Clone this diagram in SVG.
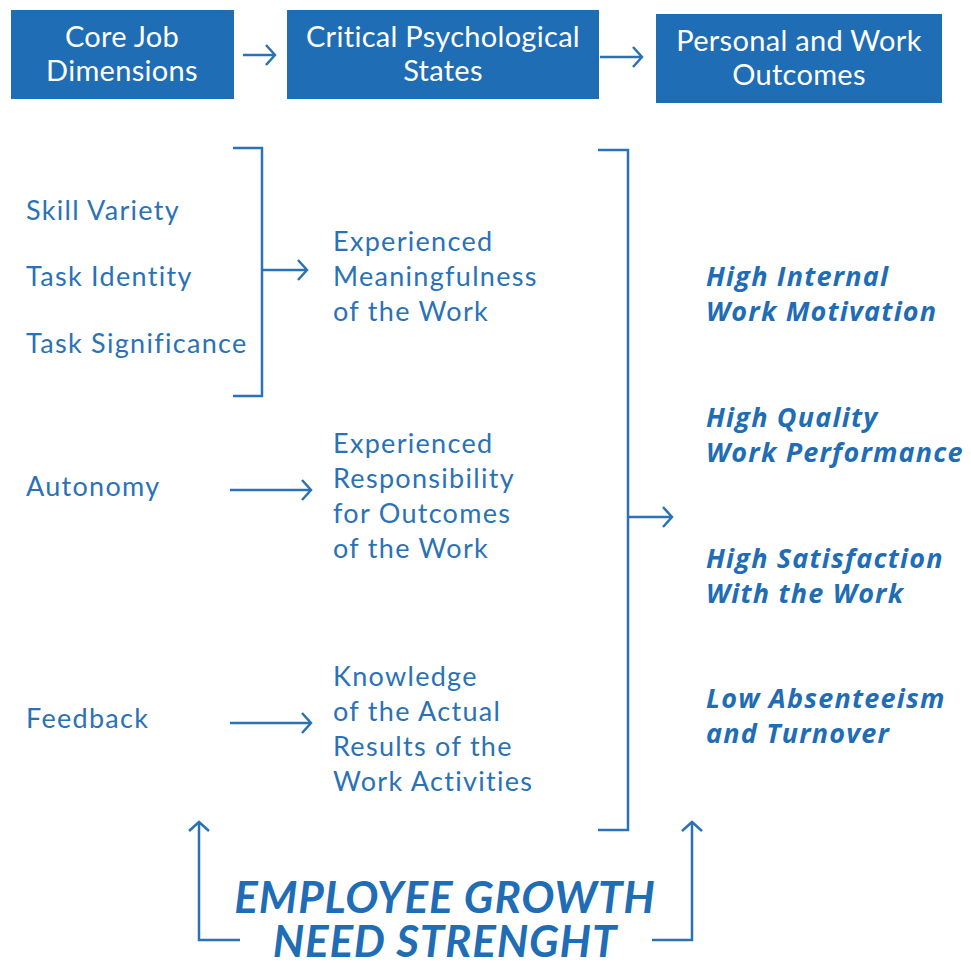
<svg xmlns="http://www.w3.org/2000/svg" width="971" height="963" viewBox="0 0 971 963">
  <defs>
    <marker id="chev" markerUnits="userSpaceOnUse" markerWidth="14" markerHeight="22" refX="11" refY="11" orient="auto" overflow="visible">
      <path d="M2,1 L11,11 L2,21" fill="none" stroke="#2a72b6" stroke-width="2.5"/>
    </marker>
  </defs>
  <style>
    .box { fill: #1f6db5; }
    .hdr { font-family: Lato, "Open Sans", sans-serif; font-size: 29px; letter-spacing: 0.3px; fill: #ffffff; text-anchor: middle; }
    .lbl { font-family: Lato, "Open Sans", sans-serif; font-size: 27px; letter-spacing: 1.3px; fill: #2a72b6; }
    .out { font-family: "Open Sans", Lato, sans-serif; font-size: 27px; font-weight: bold; font-style: italic; letter-spacing: 1.2px; fill: #1f6db5; }
    .big { font-family: Lato, "Open Sans", sans-serif; font-size: 44px; font-weight: bold; font-style: italic; letter-spacing: 0.8px; fill: #1f6db5; text-anchor: middle; }
    .ln { fill: none; stroke: #2a72b6; stroke-width: 2.5; }
    .arr { fill: none; stroke: #2a72b6; stroke-width: 2.5; marker-end: url(#chev); }
  </style>
  <rect width="971" height="963" fill="#ffffff"/>

  <!-- header boxes -->
  <g id="core-job-dimensions">
    <rect class="box" x="11" y="10" width="223" height="89"/>
    <text class="hdr" x="122" y="47">Core Job</text>
    <text class="hdr" x="122" y="81">Dimensions</text>
  </g>
  <g id="critical-psychological-states">
    <rect class="box" x="287" y="10" width="312" height="89"/>
    <text class="hdr" x="443" y="47">Critical Psychological</text>
    <text class="hdr" x="443" y="81">States</text>
  </g>
  <g id="personal-work-outcomes">
    <rect class="box" x="656" y="14" width="286" height="89"/>
    <text class="hdr" x="799" y="51">Personal and Work</text>
    <text class="hdr" x="799" y="85">Outcomes</text>
  </g>

  <!-- core job dimensions -->
  <g id="skill-variety"><text class="lbl" x="26" y="220">Skill Variety</text></g>
  <g id="task-identity"><text class="lbl" x="26" y="286">Task Identity</text></g>
  <g id="task-significance"><text class="lbl" x="26" y="353">Task Significance</text></g>
  <g id="autonomy"><text class="lbl" x="26" y="496">Autonomy</text></g>
  <g id="feedback"><text class="lbl" x="26" y="728">Feedback</text></g>

  <!-- psychological states -->
  <g id="meaningfulness">
    <text class="lbl" x="333" y="251">Experienced</text>
    <text class="lbl" x="333" y="286">Meaningfulness</text>
    <text class="lbl" x="333" y="321">of the Work</text>
  </g>
  <g id="responsibility">
    <text class="lbl" x="333" y="453">Experienced</text>
    <text class="lbl" x="333" y="488">Responsibility</text>
    <text class="lbl" x="333" y="523">for Outcomes</text>
    <text class="lbl" x="333" y="558">of the Work</text>
  </g>
  <g id="knowledge">
    <text class="lbl" x="333" y="686">Knowledge</text>
    <text class="lbl" x="333" y="721">of the Actual</text>
    <text class="lbl" x="333" y="756">Results of the</text>
    <text class="lbl" x="333" y="791">Work Activities</text>
  </g>

  <!-- outcomes -->
  <g id="internal-motivation">
    <text class="out" x="706" y="286">High Internal</text>
    <text class="out" x="706" y="321">Work Motivation</text>
  </g>
  <g id="quality-performance">
    <text class="out" x="706" y="427">High Quality</text>
    <text class="out" x="706" y="462">Work Performance</text>
  </g>
  <g id="satisfaction">
    <text class="out" x="706" y="568">High Satisfaction</text>
    <text class="out" x="706" y="603">With the Work</text>
  </g>
  <g id="absenteeism">
    <text class="out" x="706" y="708">Low Absenteeism</text>
    <text class="out" x="706" y="743">and Turnover</text>
  </g>

  <!-- moderator -->
  <g id="growth-need-strength">
    <text class="big" x="445" y="913">EMPLOYEE GROWTH<tspan x="445" y="957">NEED STRENGHT</tspan></text>
  </g>

  <!-- connectors -->
  <g id="connectors">
    <line class="arr" x1="243" y1="55" x2="275" y2="55"/>
    <line class="arr" x1="600" y1="57" x2="642" y2="57"/>
    <path class="ln" d="M233,148 H262 V396 H233"/>
    <line class="arr" x1="262" y1="270" x2="307" y2="270"/>
    <line class="arr" x1="230" y1="490" x2="311" y2="490"/>
    <line class="arr" x1="230" y1="723" x2="311" y2="723"/>
    <path class="ln" d="M598,150 H628 V830 H598"/>
    <line class="arr" x1="628" y1="517" x2="672" y2="517"/>
    <path class="arr" d="M240,940 H199 V822"/>
    <path class="arr" d="M652,940 H692 V822"/>
  </g>
</svg>
